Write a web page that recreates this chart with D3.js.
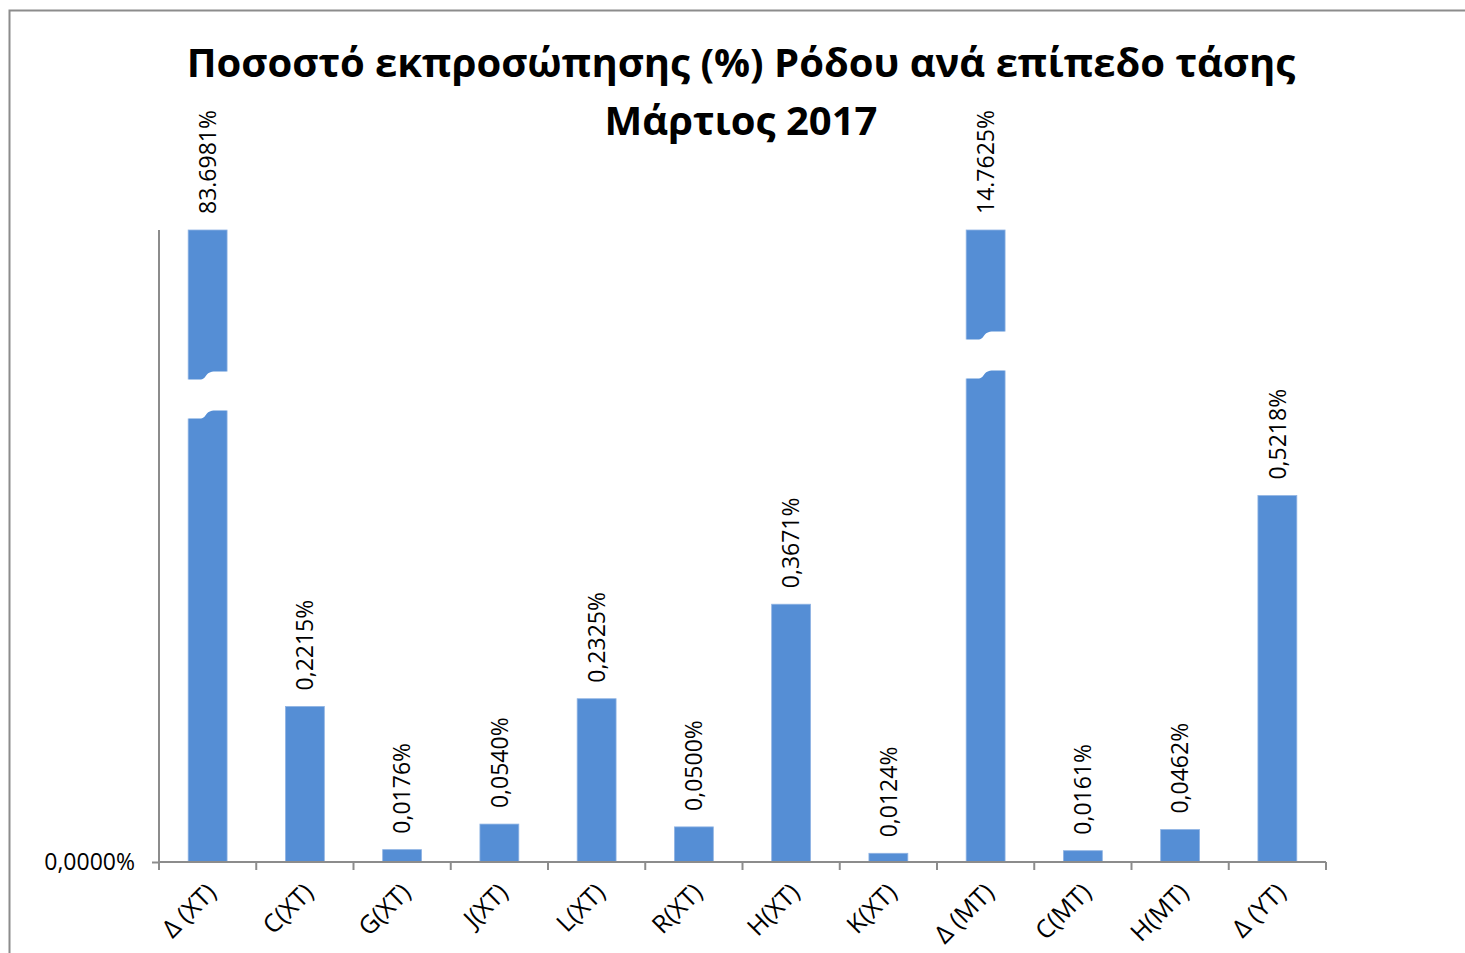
<!DOCTYPE html>
<html>
<head>
<meta charset="utf-8">
<script src="https://cdn.jsdelivr.net/npm/d3@7"></script>
<style>
  body { margin: 0; background: #fff; }
  text { font-family: "Open Sans", "Noto Sans", sans-serif; }
</style>
</head>
<body>
<script>
(() => {

    // data
    var categories = ["Δ (XT)", "C(XT)", "G(XT)", "J(XT)", "L(XT)", "R(XT)", "H(XT)", "K(XT)", "Δ (MT)", "C(MT)", "H(MT)", "Δ (YT)"];
    var values = [83.6981, 0.2215, 0.0176, 0.0540, 0.2325, 0.0500, 0.3671, 0.0124, 14.7625, 0.0161, 0.0462, 0.5218];
    var valueLabels = ["83.6981%", "0,2215%", "0,0176%", "0,0540%", "0,2325%", "0,0500%", "0,3671%", "0,0124%", "14.7625%", "0,0161%", "0,0462%", "0,5218%"];
    // broken bars: where the break mark sits (in axis units)
    var breaks = [{ cat: "Δ (XT)", at: 0.665 }, { cat: "Δ (MT)", at: 0.722 }];
    var yMax = 0.9;
    var yTicks = [0];
    var yTickLabels = ["0,0000%"];
    var titleLines = ["Ποσοστό εκπροσώπησης (%) Ρόδου ανά επίπεδο τάσης", "Μάρτιος 2017"];

    var w = 1465,
        h = 953;

    var margin = { top: 230, bottom: 91, left: 159, right: 139 };

    var barColor = "#558ed5",
        axisColor = "#8c8c8c";

    var svg = d3.select("body").append("svg")
        .attr("width", w).attr("height", h);

    // outer frame of the chart area (cut by the picture edge)
    svg.append("path")
        .attr("d", "M9.5," + h + "V10.5H" + w)
        .attr("fill", "none").attr("stroke", axisColor).attr("stroke-width", 2);

    var x = d3.scaleBand().domain(categories)
        .range([margin.left, w - margin.right])
        .paddingInner(0.6).paddingOuter(0.3);
    var y = d3.scaleLinear().domain([0, yMax]).range([h - margin.bottom, margin.top]);

    // title, sized to the width it takes in the original
    var title = svg.append("g").attr("font-weight", "bold").attr("text-anchor", "middle");
    var t1 = title.append("text").attr("x", 741).attr("y", 77).attr("font-size", 40).text(titleLines[0]);
    var fs = 40 * 1109 / t1.node().getComputedTextLength();
    t1.attr("font-size", fs);
    title.append("text").attr("x", 741).attr("y", 135).attr("font-size", fs).text(titleLines[1]);

    // bars (clamped at the top of the axis)
    var bars = svg.append("g");
    bars.selectAll("rect").data(values).enter().append("rect")
        .attr("x", (d, i) => x(categories[i]))
        .attr("width", x.bandwidth())
        .attr("y", d => y(Math.min(d, yMax)))
        .attr("height", d => y(0) - y(Math.min(d, yMax)))
        .attr("fill", barColor)
        .attr("stroke", "#8fb3e3").attr("stroke-width", 0.8);

    // break marks on the clipped bars
    var gapH = 39, bw = x.bandwidth();
    svg.append("g").selectAll("path").data(breaks).enter().append("path")
        .attr("fill", "#fff")
        .attr("d", d => {
            var x0 = x(d.cat) - 2, x1 = x0 + bw + 4,
                cy = y(d.at), xm = x(d.cat) + bw * 0.45;
            var top = "M" + x0 + "," + (cy - gapH / 2 + 4) +
                "H" + (xm - 6) +
                "C" + (xm + 2) + "," + (cy - gapH / 2 + 4) + " " + (xm - 2) + "," + (cy - gapH / 2 - 4) + " " + (xm + 10) + "," + (cy - gapH / 2 - 4) +
                "H" + x1;
            var bottom = "V" + (cy + gapH / 2 - 4) +
                "H" + (xm + 10) +
                "C" + (xm - 2) + "," + (cy + gapH / 2 - 4) + " " + (xm + 2) + "," + (cy + gapH / 2 + 4) + " " + (xm - 6) + "," + (cy + gapH / 2 + 4) +
                "H" + x0 + "Z";
            return top + bottom;
        });

    // value labels
    svg.append("g").selectAll("text").data(values).enter().append("text")
        .attr("transform", (d, i) => "translate(" + [x(categories[i]) + bw / 2, y(Math.min(d, yMax)) - 16] + ") rotate(-90)")
        .attr("dy", "0.36em")
        .attr("font-size", 23)
        .attr("fill", "#000")
        .text((d, i) => valueLabels[i]);

    // y axis
    var yAxis = svg.append("g").attr("transform", "translate(" + margin.left + ",0)")
        .call(d3.axisLeft(y).tickValues(yTicks).tickSize(7).tickPadding(17)
            .tickFormat((d, i) => yTickLabels[i]));
    yAxis.select(".domain").attr("d", "M0," + y(yMax) + "V" + y(0));

    // x axis with ticks on the category boundaries
    var bounds = d3.range(categories.length + 1).map(i => margin.left + i * x.step());
    var xAxis = svg.append("g");
    xAxis.append("line")
        .attr("x1", margin.left).attr("x2", w - margin.right)
        .attr("y1", y(0)).attr("y2", y(0));
    xAxis.selectAll(".tk").data(bounds).enter().append("line").attr("class", "tk")
        .attr("x1", d => d).attr("x2", d => d)
        .attr("y1", y(0)).attr("y2", y(0) + 8);
    xAxis.selectAll("text").data(categories).enter().append("text")
        .attr("transform", d => "translate(" + [x(d) + bw / 2 + 10, y(0) + 32] + ") rotate(-45)")
        .attr("text-anchor", "end")
        .attr("font-size", 25)
        .attr("fill", "#000")
        .text(d => d);

    svg.selectAll(".domain, .tick line, g line").attr("stroke", axisColor).attr("stroke-width", 2);
    yAxis.selectAll(".tick text").attr("font-size", 23).attr("fill", "#000")
        .attr("font-family", "Open Sans, sans-serif");
})()
</script>
</body>
</html>
